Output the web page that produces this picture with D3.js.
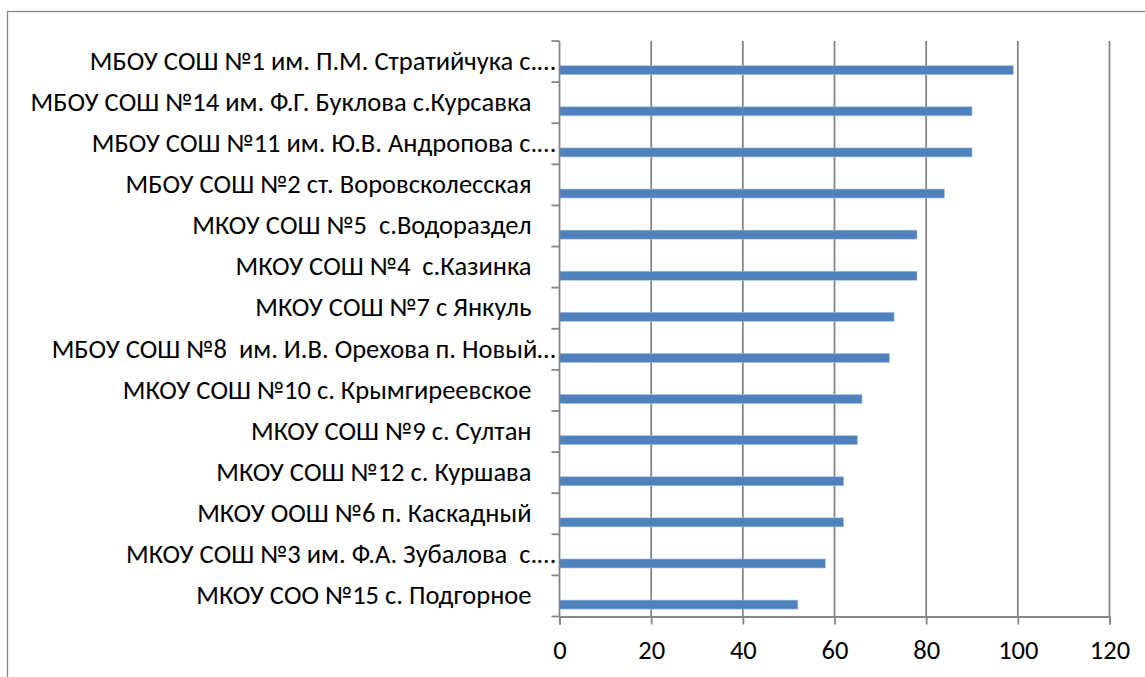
<!DOCTYPE html>
<html>
<head>
<meta charset="utf-8">
<script src="https://cdn.jsdelivr.net/npm/d3@7"></script>
<style>
  body { margin: 0; background: #fff; }
  svg text { font-family: Carlito, Calibri, "Liberation Sans", sans-serif; fill: #000; white-space: pre; }
</style>
</head>
<body>
<div id="chart"></div>
<script>
// school names, top to bottom
var schools = [
    "МБОУ СОШ №1 им. П.М. Стратийчука с.…",
    "МБОУ СОШ №14 им. Ф.Г. Буклова с.Курсавка",
    "МБОУ СОШ №11 им. Ю.В. Андропова с.…",
    "МБОУ СОШ №2 ст. Воровсколесская",
    "МКОУ СОШ №5  с.Водораздел",
    "МКОУ СОШ №4  с.Казинка",
    "МКОУ СОШ №7 с Янкуль",
    "МБОУ СОШ №8  им. И.В. Орехова п. Новый…",
    "МКОУ СОШ №10 с. Крымгиреевское",
    "МКОУ СОШ №9 с. Султан",
    "МКОУ СОШ №12 с. Куршава",
    "МКОУ ООШ №6 п. Каскадный",
    "МКОУ СОШ №3 им. Ф.А. Зубалова  с.…",
    "МКОУ СОО №15 с. Подгорное"
];
var scores = [99, 90, 90, 84, 78, 78, 73, 72, 66, 65, 62, 62, 58, 52];
var xTicks = [0, 20, 40, 60, 80, 100, 120];

var W = 1145, H = 677;
var margin = {top: 41, left: 559.5, right: 35.5, bottom: 60};
var width = W - margin.left - margin.right,
    height = 616.5 - margin.top;
var fontSize = "26.5px";

var svg = d3.select("#chart").append("svg")
    .attr("width", W)
    .attr("height", H);

// chart border (right and bottom run off the picture)
svg.append("rect")
    .attr("x", 7.5).attr("y", 11.5)
    .attr("width", W).attr("height", H)
    .attr("fill", "none")
    .attr("stroke", "#868686")
    .attr("stroke-width", 1.3);

var g = svg.append("g")
    .attr("transform", "translate(" + margin.left + "," + margin.top + ")");

var x = d3.scaleLinear().domain([0, 120]).range([0, width]);
var y = d3.scaleBand().domain(schools).range([0, height]);

// vertical gridlines
g.selectAll("line.grid")
    .data(xTicks.slice(1))
    .enter().append("line")
    .attr("class", "grid")
    .attr("x1", function(d) { return x(d); })
    .attr("x2", function(d) { return x(d); })
    .attr("y1", 0)
    .attr("y2", height)
    .attr("stroke", "#868686")
    .attr("stroke-width", 1.8);

// bars sit in the lower part of each band
var barH = 9, barOff = 24.7;
g.selectAll("rect.bar")
    .data(scores)
    .enter().append("rect")
    .attr("class", "bar")
    .attr("x", 0)
    .attr("y", function(d, i) { return y(schools[i]) + barOff; })
    .attr("width", function(d) { return x(d); })
    .attr("height", barH)
    .attr("fill", "#4F81BD")
    .attr("stroke", "#A9C1E0")
    .attr("stroke-width", 0.6);

// x axis
var xAxis = g.append("g")
    .attr("transform", "translate(0," + height + ")")
    .call(d3.axisBottom(x).tickValues(xTicks).tickSize(8).tickPadding(16));
xAxis.select(".domain").attr("stroke", "#868686").attr("stroke-width", 1.8);
xAxis.selectAll(".tick line").attr("stroke", "#868686").attr("stroke-width", 1.8);
xAxis.selectAll(".tick text").style("font-size", fontSize).attr("font-family", null);

// y axis line with ticks on band edges
g.append("line")
    .attr("x1", 0).attr("x2", 0)
    .attr("y1", 0).attr("y2", height)
    .attr("stroke", "#868686")
    .attr("stroke-width", 1.8);
var edges = schools.map(function(s) { return y(s); }).concat([height]);
g.selectAll("line.ytick")
    .data(edges)
    .enter().append("line")
    .attr("class", "ytick")
    .attr("x1", -8).attr("x2", 0)
    .attr("y1", function(d) { return d; })
    .attr("y2", function(d) { return d; })
    .attr("stroke", "#868686")
    .attr("stroke-width", 1.8);

// category labels
g.selectAll("text.cat")
    .data(schools)
    .enter().append("text")
    .attr("class", "cat")
    .attr("x", function(d) { return d.slice(-1) === "…" ? -4 : -28; })
    .attr("y", function(d) { return y(d) + y.bandwidth() / 2 - 1; })
    .attr("dy", "0.35em")
    .attr("text-anchor", "end")
    .style("font-size", fontSize)
    .text(function(d) { return d; });
</script>
</body>
</html>
